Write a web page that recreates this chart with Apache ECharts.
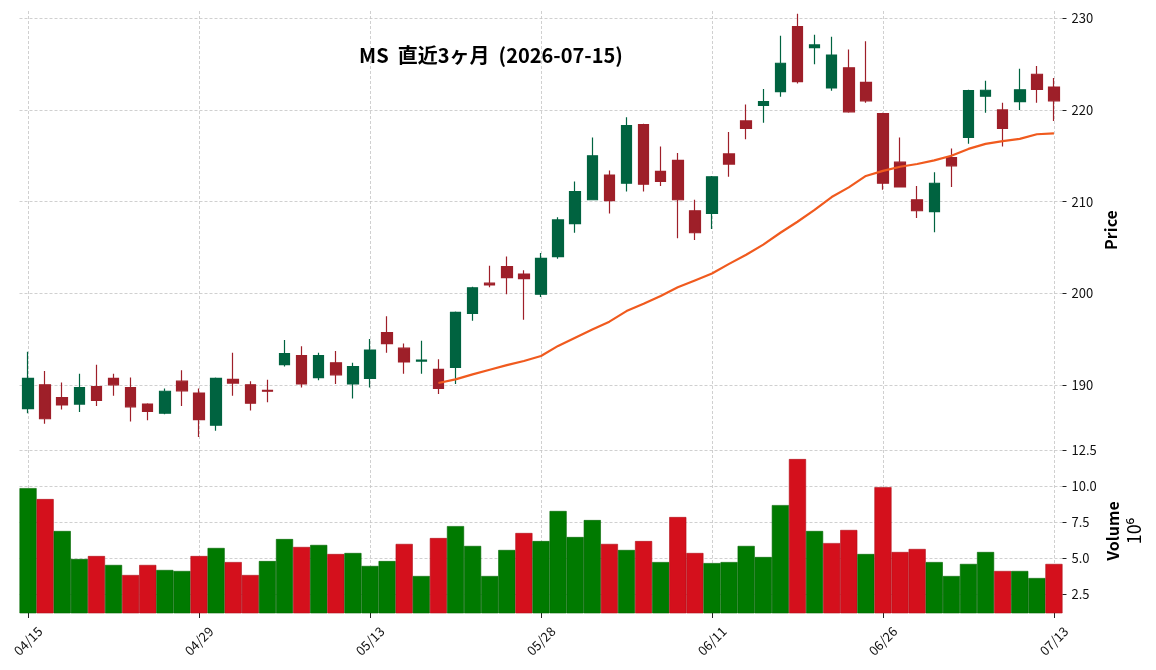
<!DOCTYPE html>
<html>
<head>
<meta charset="utf-8">
<script src="https://cdn.jsdelivr.net/npm/echarts@6/dist/echarts.min.js"></script>
<style>
  html, body { margin: 0; padding: 0; background: #fff; }
  #chart { width: 1156px; height: 670px; }
</style>
</head>
<body>
<div id="chart"></div>
<script>
const dates = [
  "04/15", "04/16", "04/17", "04/20", "04/21", "04/22", "04/23", "04/24", "04/27", "04/28",
  "04/29", "04/30", "05/01", "05/04", "05/05", "05/06", "05/07", "05/08", "05/11", "05/12",
  "05/13", "05/14", "05/15", "05/18", "05/19", "05/20", "05/21", "05/22", "05/26", "05/27",
  "05/28", "05/29", "06/01", "06/02", "06/03", "06/04", "06/05", "06/08", "06/09", "06/10",
  "06/11", "06/12", "06/15", "06/16", "06/17", "06/18", "06/22", "06/23", "06/24", "06/25",
  "06/26", "06/29", "06/30", "07/01", "07/02", "07/06", "07/07", "07/08", "07/09", "07/10",
  "07/13"
];

const openP = [
  187.4, 190.0, 188.6, 187.9, 189.8, 190.7, 189.7, 187.9, 186.9, 190.4,
  189.1, 185.6, 190.6, 190.0, 189.4, 192.2, 193.2, 190.8, 192.4, 190.1,
  190.7, 195.7, 194.0, 192.6, 191.7, 191.9, 197.8, 201.1, 202.9, 202.1,
  199.9, 204.0, 207.6, 210.2, 212.9, 212.0, 218.4, 213.3, 214.5, 209.0,
  208.7, 215.2, 218.8, 220.5, 222.0, 229.1, 226.8, 222.4, 224.6, 223.0,
  219.6, 214.3, 210.2, 208.9, 214.8, 217.0, 221.5, 220.0, 220.9, 223.9,
  222.5
];

const closeP = [
  190.7, 186.3, 187.8, 189.7, 188.3, 190.0, 187.6, 187.1, 189.3, 189.35,
  186.2, 190.7, 190.2, 188.0, 189.3, 193.4, 190.1, 193.2, 191.1, 192.0,
  193.8, 194.5, 192.5, 192.7, 189.6, 197.9, 200.6, 200.9, 201.7, 201.6,
  203.8, 208.0, 211.1, 215.0, 210.1, 218.3, 211.9, 212.2, 210.2, 206.6,
  212.7, 214.1, 218.0, 220.9, 225.1, 223.1, 227.1, 226.0, 219.8, 221.0,
  212.0, 211.6, 209.0, 212.0, 213.9, 222.1, 222.15, 218.0, 222.2, 222.25,
  221.0
];

const lowP = [
  186.9, 185.75, 187.3, 187.05, 187.7, 188.8, 186.0, 186.15, 186.8, 187.7,
  184.3, 185.0, 188.8, 187.2, 188.1, 192.0, 189.7, 190.5, 190.1, 188.5,
  189.7, 193.5, 191.2, 191.2, 189.0, 190.1, 197.0, 200.65, 199.9, 197.1,
  199.6, 203.75, 206.6, 210.2, 208.7, 211.1, 211.1, 211.7, 206.0, 205.8,
  207.0, 212.7, 216.8, 218.6, 221.45, 222.9, 225.0, 222.1, 219.7, 220.8,
  211.3, 211.6, 208.2, 206.65, 211.6, 216.3, 219.7, 216.0, 220.0, 220.8,
  218.8
];

const highP = [
  193.6, 191.5, 190.25, 191.2, 192.2, 191.2, 190.8, 188.0, 189.6, 191.6,
  189.6, 190.8, 193.5, 190.4, 190.55, 194.9, 194.2, 193.5, 193.7, 192.4,
  195.0, 197.5, 194.5, 194.8, 192.8, 198.0, 200.7, 203.0, 204.0, 202.5,
  204.4, 208.3, 212.2, 217.0, 213.4, 219.2, 218.5, 216.0, 215.3, 210.2,
  212.8, 217.6, 220.6, 222.3, 228.1, 230.5, 228.2, 228.0, 226.6, 227.5,
  219.7, 217.0, 211.7, 213.2, 215.8, 222.2, 223.2, 220.8, 224.5, 224.8,
  223.5
];

// 出来高 (10^6)
const volume = [
  9.88, 9.12, 6.90, 4.95, 5.16, 4.54, 3.84, 4.54, 4.19, 4.12,
  5.16, 5.72, 4.74, 3.84, 4.81, 6.34, 5.79, 5.93, 5.30, 5.37,
  4.47, 4.81, 6.00, 3.77, 6.41, 7.24, 5.86, 3.77, 5.58, 6.76,
  6.20, 8.29, 6.48, 7.66, 6.00, 5.58, 6.20, 4.74, 7.87, 5.37,
  4.67, 4.74, 5.86, 5.09, 8.70, 11.90, 6.90, 6.06, 6.97, 5.30,
  9.95, 5.44, 5.65, 4.74, 3.77, 4.61, 5.44, 4.12, 4.12, 3.63,
  4.61
];

// 25日移動平均 (先頭24本は無し)
const ma25 = [
  null, null, null, null, null, null, null, null, null, null,
  null, null, null, null, null, null, null, null, null, null,
  null, null, null, null, 190.2, 190.6, 191.15, 191.65, 192.15, 192.6,
  193.15, 194.25, 195.15, 196.05, 196.9, 198.05, 198.85, 199.7, 200.65, 201.4,
  202.15, 203.2, 204.2, 205.3, 206.6, 207.8, 209.1, 210.5, 211.55, 212.8,
  213.35, 213.8, 214.1, 214.5, 215.0, 215.75, 216.3, 216.6, 216.85, 217.35,
  217.45
];

const priceTicks = [190, 200, 210, 220, 230];
const volumeTicks = [2.5, 5.0, 7.5, 10.0, 12.5];
const dateTickIdx = [0, 10, 20, 30, 40, 50, 60];

const font = "'Noto Sans CJK JP', 'Noto Sans', 'DejaVu Sans', sans-serif";
const gridLine = { color: "#c4c4c4", width: 0.8, type: [3, 2] };

const candles = dates.map((d, i) => [openP[i], closeP[i], lowP[i], highP[i]]);
const volBars = volume.map((v, i) => {
  let up = i === 0 || closeP[i] >= closeP[i - 1];
  return {
    value: v,
    itemStyle: {
      color: up ? "#007a00" : "#d4101c",
      borderColor: up ? "#006600" : "#b00d17"
    }
  };
});
const vLines = dateTickIdx.map((i) => ({ xAxis: dates[i] }));

let chart = echarts.init(document.getElementById("chart"), null, { renderer: "canvas" });

let option = {
  animation: false,
  backgroundColor: "#ffffff",
  textStyle: { fontFamily: font },
  title: {
    text: "MS  直近3ヶ月  (2026-07-15)",
    left: 486,
    top: 40,
    textAlign: "center",
    textStyle: { fontFamily: font, fontSize: 20, fontWeight: "bold", color: "#000" }
  },
  grid: [
    { left: 19.5, width: 1043, top: 11, height: 438 },
    { left: 19.5, width: 1043, top: 449, height: 164 }
  ],
  xAxis: [
    {
      type: "category",
      gridIndex: 0,
      data: dates,
      boundaryGap: true,
      axisLine: { show: false },
      axisTick: { show: false },
      axisLabel: { show: false },
      splitLine: { show: false }
    },
    {
      type: "category",
      gridIndex: 1,
      data: dates,
      boundaryGap: true,
      axisLine: { show: false },
      axisTick: {
        show: true,
        alignWithLabel: true,
        interval: (i) => i % 10 === 0,
        length: 5,
        lineStyle: { color: "#222", width: 1 }
      },
      axisLabel: {
        interval: (i) => i % 10 === 0,
        rotate: 45,
        align: "center",
        verticalAlign: "middle",
        margin: 28,
        fontSize: 13,
        color: "#111",
        fontFamily: font
      },
      splitLine: { show: false }
    }
  ],
  yAxis: [
    {
      type: "value",
      gridIndex: 0,
      position: "right",
      min: 183.0,
      max: 230.8,
      name: "Price",
      nameLocation: "middle",
      nameRotate: 90,
      nameGap: 40,
      nameMoveOverlap: false,
      nameTextStyle: { fontFamily: font, fontSize: 16, fontWeight: "bold", color: "#000" },
      axisLine: { show: false },
      axisTick: { show: true, length: 4, customValues: priceTicks, lineStyle: { color: "#222" } },
      axisLabel: { customValues: priceTicks, margin: 9, fontSize: 13, color: "#111", fontFamily: font },
      splitLine: { show: true, lineStyle: gridLine }
    },
    {
      type: "value",
      gridIndex: 1,
      position: "right",
      min: 1.2,
      max: 12.6,
      name: "{b|Volume}\n{e|10⁶}",
      nameLocation: "middle",
      nameRotate: 90,
      nameGap: 40,
      nameMoveOverlap: false,
      nameTextStyle: {
        fontFamily: font,
        color: "#000",
        rich: {
          b: { fontSize: 16, fontWeight: "bold", fontFamily: font, lineHeight: 21 },
          e: { fontSize: 18, fontFamily: font, lineHeight: 21 }
        }
      },
      axisLine: { show: false },
      axisTick: { show: true, length: 4, customValues: volumeTicks, lineStyle: { color: "#222" } },
      axisLabel: {
        customValues: volumeTicks,
        margin: 9,
        fontSize: 13,
        color: "#111",
        fontFamily: font,
        formatter: (v) => v.toFixed(1)
      },
      splitLine: { show: true, lineStyle: gridLine }
    }
  ],
  series: [
    {
      name: "MS",
      type: "candlestick",
      xAxisIndex: 0,
      yAxisIndex: 0,
      data: candles,
      barWidth: 11,
      z: 3,
      itemStyle: {
        color: "#006340",
        color0: "#9e1f29",
        borderColor: "#006340",
        borderColor0: "#9e1f29",
        borderWidth: 1.2
      },
      markLine: {
        silent: true,
        symbol: "none",
        z: 1,
        label: { show: false },
        lineStyle: gridLine,
        emphasis: { disabled: true },
        data: vLines
      }
    },
    {
      name: "MA25",
      type: "line",
      xAxisIndex: 0,
      yAxisIndex: 0,
      data: ma25,
      symbol: "none",
      z: 4,
      lineStyle: { color: "#f05a1e", width: 2.2 }
    },
    {
      name: "Volume",
      type: "bar",
      xAxisIndex: 1,
      yAxisIndex: 1,
      data: volBars,
      barWidth: "100%",
      barCategoryGap: "0%",
      z: 3,
      itemStyle: { borderWidth: 0.6 },
      markLine: {
        silent: true,
        symbol: "none",
        z: 1,
        label: { show: false },
        lineStyle: gridLine,
        emphasis: { disabled: true },
        data: vLines
      }
    }
  ]
};

chart.setOption(option);
window.addEventListener("resize", chart.resize);
</script>
</body>
</html>
